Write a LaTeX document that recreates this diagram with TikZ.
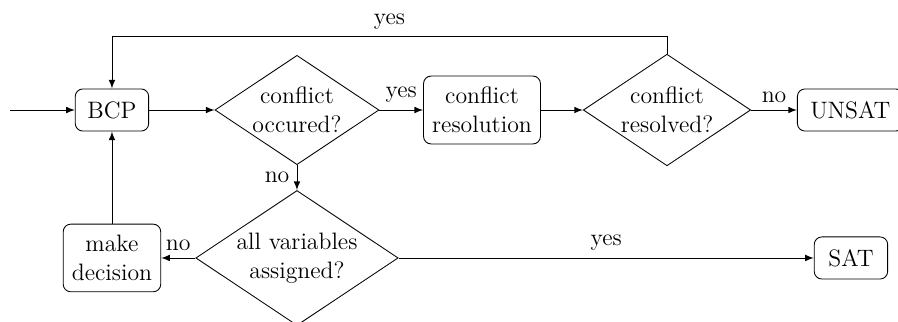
\documentclass[tikz,border=0pt]{standalone}
\usepackage{amsmath}
\usetikzlibrary{arrows,shapes,shapes.geometric}

\begin{document}
\begin{tikzpicture}[>=latex,font=\fontsize{11}{13.6}\selectfont,
  block/.style={rectangle,rounded corners=3.5pt,draw,align=center,inner xsep=4pt,inner ysep=5pt,minimum width=34pt,minimum height=19.5pt},
  decision/.style={diamond,draw,align=center,aspect=1.5,inner sep=0.5pt}]
\useasboundingbox (0,0) rectangle (14.62,5.242);
\clip (0,0) rectangle (14.62,5.242);
\coordinate (in) at (0.163,3.451);
\node[block] (bcp) at (1.823,3.451) {BCP};
\node[decision] (occ) at (4.835,3.451) {conflict\\occured?};
\node[block] (res) at (7.847,3.451) {conflict\\resolution};
\node[decision] (rsd) at (10.859,3.451) {conflict\\resolved?};
\node[block,anchor=west,minimum width=49pt] (unsat) at (12.975,3.451) {UNSAT};
\node[decision] (all) at (4.835,1.042) {all variables\\assigned?};
\node[block] (dec) at (1.823,1.042) {make\\decision};
\node[block] (sat) at (13.854,1.042) {SAT};
\draw[->] (in) -- (bcp); \draw[->] (bcp) -- (occ);
\draw[->] (occ) -- node[above] {yes} (res);
\draw[->] (res) -- (rsd);
\draw[->] (rsd) -- node[above] {no} (unsat);
\draw[->] (rsd.north) -- ++(0,0.277) -| node[pos=0.25,above] {yes} (bcp.north);
\draw[->] (occ) -- node[left] {no} (all);
\draw[->] (all) -- node[above] {no} (dec);
\draw[->] (all) -- node[above] {yes} (sat);
\draw[->] (dec) -- (bcp);
\end{tikzpicture}
\end{document}
